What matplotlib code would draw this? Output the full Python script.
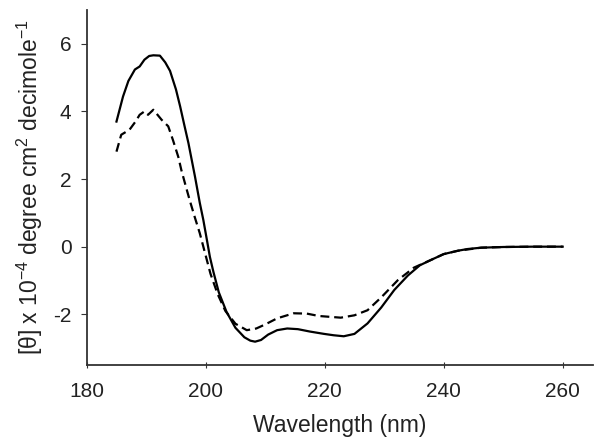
import matplotlib
matplotlib.use("Agg")
import matplotlib.pyplot as plt

plt.rcParams['font.family'] = ['Liberation Sans', 'DejaVu Sans']
plt.rcParams['mathtext.fontset'] = 'custom'
plt.rcParams['mathtext.rm'] = 'Liberation Sans'
plt.rcParams['mathtext.it'] = 'Liberation Sans'
plt.rcParams['axes.unicode_minus'] = False

# solid curve
wl_solid = [185, 186.1, 187.0, 188.1, 188.9, 189.7, 190.5, 191.2, 192.3, 193.2,
            194.0, 195.0, 195.7, 196.4, 197.1, 198.2, 199.0, 199.6, 200.2, 200.7,
            201.3, 202.2, 203.5, 205.0, 206.5, 207.5, 208.3, 209.3, 210.5, 212.0,
            213.7, 215.5, 217.5, 219.9, 221.5, 223.2, 225.0, 227.2, 229.5, 231.7,
            234.0, 236.0, 237.9, 240.0, 242.4, 244.0, 246.3, 250.0, 255.0, 260.0]
cd_solid = [3.70, 4.44, 4.90, 5.24, 5.33, 5.53, 5.64, 5.66, 5.65, 5.45,
            5.20, 4.65, 4.15, 3.60, 3.06, 2.07, 1.30, 0.79, 0.20, -0.30,
            -0.75, -1.35, -1.93, -2.40, -2.68, -2.78, -2.81, -2.76, -2.60, -2.47,
            -2.42, -2.44, -2.51, -2.58, -2.62, -2.65, -2.58, -2.27, -1.80, -1.28,
            -0.85, -0.55, -0.39, -0.22, -0.12, -0.07, -0.03, -0.01, 0.00, 0.00]

# dashed curve
wl_dash = [185, 185.8, 187.2, 188.2, 188.9, 189.7, 190.3, 191.2, 192.6, 193.7,
           194.5, 195.4, 195.9, 196.6, 197.3, 198.2, 199.0, 199.9, 200.8, 202.0,
           203.3, 205.0, 206.9, 208.5, 210.0, 212.0, 214.8, 217.0, 219.0, 222.7,
           225.0, 227.2, 229.5, 232.3, 235.0, 237.9, 240.0, 242.4, 246.3, 250.0,
           255.0, 260.0]
cd_dash = [2.81, 3.31, 3.46, 3.70, 3.90, 4.00, 3.90, 4.05, 3.75, 3.56,
           3.15, 2.65, 2.27, 1.82, 1.38, 0.85, 0.40, -0.20, -0.80, -1.40,
           -1.90, -2.28, -2.47, -2.42, -2.30, -2.12, -1.97, -1.98, -2.05, -2.10,
           -2.03, -1.88, -1.50, -0.99, -0.62, -0.39, -0.22, -0.12, -0.03, -0.01,
           0.00, 0.00]

x_ticks = [180, 200, 220, 240, 260]
y_ticks = [-2, 0, 2, 4, 6]

fig = plt.figure(figsize=(6.01, 4.46), dpi=100)
ax = fig.add_axes([0.1443, 0.1816, 0.8424, 0.796])

ax.plot(wl_solid, cd_solid, color='black', lw=1.6, solid_joinstyle='round')
ax.plot(wl_dash, cd_dash, color='black', lw=1.6, linestyle=(0, (4, 2.2)))

ax.set_xlim(180, 265.1)
ax.set_ylim(-3.5, 7.0)
ax.set_xticks(x_ticks)
ax.set_yticks(y_ticks)

for s in ['top', 'right']:
    ax.spines[s].set_visible(False)
for s in ['left', 'bottom']:
    ax.spines[s].set_linewidth(1.3)
    ax.spines[s].set_color('#333333')

ax.tick_params(axis='x', direction='inout', length=5, width=0.8, pad=10,
               labelsize=15, colors='#333333', labelcolor='#222222')
ax.tick_params(axis='y', direction='out', length=4, width=0.8, pad=7,
               labelsize=15, colors='#333333', labelcolor='#222222')

ax.set_xlabel('Wavelength (nm)', fontsize=16.5, labelpad=9, color='#222222')
ax.set_ylabel(r'[θ] x 10$^{-4}$ degree cm$^{2}$ decimole$^{-1}$', fontsize=16.5,
              labelpad=6, color='#222222')

fig.savefig('out.png', dpi=100)
